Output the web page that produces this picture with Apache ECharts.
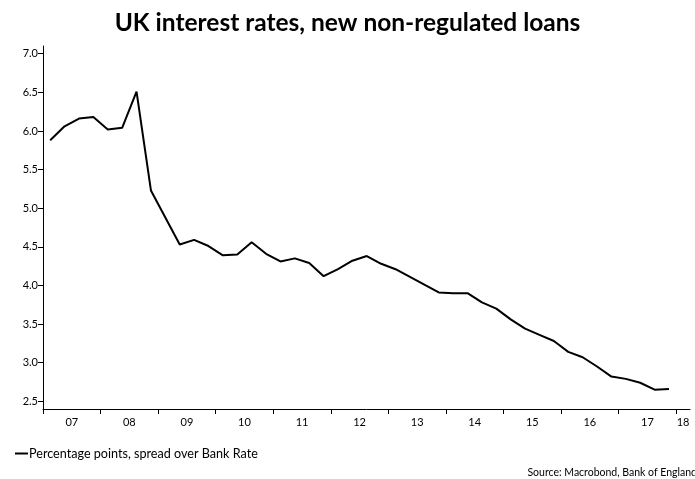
<!DOCTYPE html>
<html>
<head>
<meta charset="utf-8">
<script src="https://cdn.jsdelivr.net/npm/echarts@6/dist/echarts.min.js"></script>
<style>
  html, body { margin: 0; padding: 0; background: #fff; }
  #chart { width: 695px; height: 479px; }
</style>
</head>
<body>
<div id="chart"></div>
<script>
// Quarterly observations, 2007 Q1 to 2017 Q4
const quarters = [
  '2007Q1','2007Q2','2007Q3','2007Q4',
  '2008Q1','2008Q2','2008Q3','2008Q4',
  '2009Q1','2009Q2','2009Q3','2009Q4',
  '2010Q1','2010Q2','2010Q3','2010Q4',
  '2011Q1','2011Q2','2011Q3','2011Q4',
  '2012Q1','2012Q2','2012Q3','2012Q4',
  '2013Q1','2013Q2','2013Q3','2013Q4',
  '2014Q1','2014Q2','2014Q3','2014Q4',
  '2015Q1','2015Q2','2015Q3','2015Q4',
  '2016Q1','2016Q2','2016Q3','2016Q4',
  '2017Q1','2017Q2','2017Q3','2017Q4'
];
// Percentage points, spread over Bank Rate
const spread = [
  5.88, 6.06, 6.16, 6.18,
  6.02, 6.04, 6.51, 5.23,
  4.88, 4.53, 4.59, 4.51,
  4.39, 4.40, 4.56, 4.41,
  4.31, 4.35, 4.29, 4.12,
  4.21, 4.32, 4.38, 4.28,
  4.21, 4.11, 4.01, 3.91,
  3.90, 3.90, 3.78, 3.70,
  3.56, 3.44, 3.36, 3.28,
  3.14, 3.07, 2.95, 2.82,
  2.79, 2.74, 2.65, 2.66
];
const yTicks = [2.5, 3.0, 3.5, 4.0, 4.5, 5.0, 5.5, 6.0, 6.5, 7.0];
const yearTicks = [2007, 2008, 2009, 2010, 2011, 2012, 2013, 2014, 2015, 2016, 2017, 2018];
const yearLabels = ['07','08','09','10','11','12','13','14','15','16','17','18'];

// Place each quarter at the middle of its three months (decimal years)
function quarterPos(q) {
  const y = parseInt(q.slice(0, 4), 10);
  const n = parseInt(q.slice(5), 10);
  return y + (n - 0.5) / 4;
}
const points = quarters.map((q, i) => [quarterPos(q), spread[i]]);

// Year labels sit in the middle of each year; the last year is only partly shown
const xMax = 2018.24;
const labelPos = yearTicks.map(y => Math.min(y + 0.5, (y + xMax) / 2));

const FONT = 'Lato, "Open Sans", sans-serif';
const chart = echarts.init(document.getElementById('chart'));
chart.setOption({
  backgroundColor: '#ffffff',
  animation: false,
  title: {
    text: 'UK interest rates, new non-regulated loans',
    left: 'center',
    top: 6,
    textStyle: { fontFamily: FONT, fontWeight: 'bold', fontSize: 24.5, color: '#000' }
  },
  legend: {
    left: 10,
    top: 442,
    itemWidth: 13,
    itemHeight: 2,
    itemGap: 2,
    icon: 'rect',
    data: ['Percentage points, spread over Bank Rate'],
    textStyle: { fontFamily: FONT, fontSize: 12.6, color: '#000', padding: [0, 0, 0, -4] }
  },
  graphic: [{
    type: 'text',
    right: -2,
    top: 467,
    style: { text: 'Source: Macrobond, Bank of England', fontFamily: FONT, fontSize: 10.5, fill: '#000' }
  }],
  grid: { left: 43, right: 5, top: 46, bottom: 70 },
  xAxis: {
    type: 'value',
    min: 2007,
    max: xMax,
    splitLine: { show: false },
    axisLine: { lineStyle: { color: '#000', width: 1 } },
    axisTick: { customValues: yearTicks, length: 5, lineStyle: { color: '#000' } },
    axisLabel: {
      customValues: labelPos,
      margin: 8,
      fontFamily: FONT, fontSize: 11, color: '#000',
      formatter: v => yearLabels[Math.floor(v) - 2007]
    }
  },
  yAxis: {
    type: 'value',
    min: 2.4,
    max: 7.1,
    splitLine: { show: false },
    axisLine: { show: true, lineStyle: { color: '#000', width: 1 } },
    axisTick: { show: true, customValues: yTicks, length: 5, lineStyle: { color: '#000' } },
    axisLabel: {
      customValues: yTicks,
      margin: 5,
      fontFamily: FONT, fontSize: 11, color: '#000',
      formatter: v => v.toFixed(1)
    }
  },
  series: [{
    name: 'Percentage points, spread over Bank Rate',
    type: 'line',
    data: points,
    showSymbol: false,
    symbol: 'none',
    lineStyle: { color: '#000', width: 2 },
    itemStyle: { color: '#000' }
  }]
});
</script>
</body>
</html>
